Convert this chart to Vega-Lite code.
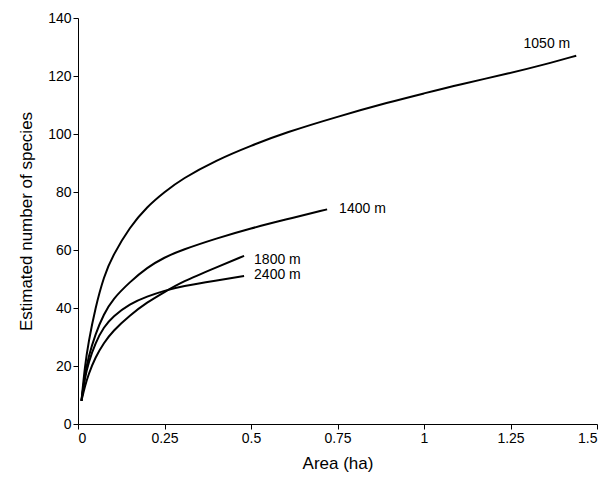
{
  "$schema": "https://vega.github.io/schema/vega-lite/v6.json",
  "autosize": "none",
  "width": 519,
  "height": 406,
  "padding": {"left": 78, "top": 18, "right": 9, "bottom": 65},
  "background": "white",
  "config": {"view": {"stroke": null}, "font": "Liberation Sans"},
  "datasets": {
    "labels": [
      {"s":"1050 m","a":1.44,"n":127},
      {"s":"1400 m","a":0.72,"n":74},
      {"s":"1800 m","a":0.48,"n":58},
      {"s":"2400 m","a":0.48,"n":51}
    ]
  },
  "layer": [
    {
      "data": {"values": [
        {"s":"1050 m","a":0.01,"n":8},{"s":"1050 m","a":0.02,"n":20},{"s":"1050 m","a":0.03,"n":28},{"s":"1050 m","a":0.05,"n":40},{"s":"1050 m","a":0.075,"n":51},{"s":"1050 m","a":0.1,"n":58},{"s":"1050 m","a":0.15,"n":68},{"s":"1050 m","a":0.2,"n":75},{"s":"1050 m","a":0.25,"n":80},{"s":"1050 m","a":0.3,"n":84.5},{"s":"1050 m","a":0.4,"n":91},{"s":"1050 m","a":0.5,"n":96},{"s":"1050 m","a":0.6,"n":100.5},{"s":"1050 m","a":0.75,"n":106},{"s":"1050 m","a":0.9,"n":111},{"s":"1050 m","a":1.0,"n":114},{"s":"1050 m","a":1.1,"n":117},{"s":"1050 m","a":1.25,"n":121},{"s":"1050 m","a":1.35,"n":124},{"s":"1050 m","a":1.44,"n":127},
        {"s":"1400 m","a":0.01,"n":8},{"s":"1400 m","a":0.02,"n":17},{"s":"1400 m","a":0.03,"n":23},{"s":"1400 m","a":0.05,"n":31},{"s":"1400 m","a":0.075,"n":38},{"s":"1400 m","a":0.1,"n":43},{"s":"1400 m","a":0.15,"n":49},{"s":"1400 m","a":0.2,"n":54},{"s":"1400 m","a":0.25,"n":57.5},{"s":"1400 m","a":0.3,"n":60},{"s":"1400 m","a":0.4,"n":64},{"s":"1400 m","a":0.5,"n":67.5},{"s":"1400 m","a":0.6,"n":70.5},{"s":"1400 m","a":0.72,"n":74},
        {"s":"1800 m","a":0.01,"n":8},{"s":"1800 m","a":0.02,"n":13},{"s":"1800 m","a":0.03,"n":17},{"s":"1800 m","a":0.05,"n":23},{"s":"1800 m","a":0.075,"n":28},{"s":"1800 m","a":0.1,"n":32},{"s":"1800 m","a":0.15,"n":37.5},{"s":"1800 m","a":0.2,"n":42},{"s":"1800 m","a":0.25,"n":45.5},{"s":"1800 m","a":0.3,"n":49},{"s":"1800 m","a":0.4,"n":54},{"s":"1800 m","a":0.48,"n":58},
        {"s":"2400 m","a":0.01,"n":8},{"s":"2400 m","a":0.02,"n":16},{"s":"2400 m","a":0.03,"n":21},{"s":"2400 m","a":0.05,"n":28},{"s":"2400 m","a":0.075,"n":33.5},{"s":"2400 m","a":0.1,"n":37},{"s":"2400 m","a":0.15,"n":41.5},{"s":"2400 m","a":0.2,"n":44},{"s":"2400 m","a":0.25,"n":46},{"s":"2400 m","a":0.3,"n":47.5},{"s":"2400 m","a":0.4,"n":49.5},{"s":"2400 m","a":0.48,"n":51}
      ]},
      "mark": {"type": "line", "color": "black", "strokeWidth": 2, "interpolate": "basis"},
      "encoding": {
        "x": {"field": "a", "type": "quantitative", "scale": {"domain": [0, 1.5], "nice": false},
          "axis": {"title": "Area (ha)", "values": [0,0.25,0.5,0.75,1,1.25,1.5], "format": ".2~f", "grid": false, "domainColor": "black", "tickColor": "black", "labelFontSize": 14, "labelColor": "black", "titleFontSize": 17, "titleFontWeight": "normal", "titleColor": "black", "titlePadding": 10, "tickSize": 5}},
        "y": {"field": "n", "type": "quantitative", "scale": {"domain": [0, 140], "nice": false},
          "axis": {"title": "Estimated number of species", "values": [0,20,40,60,80,100,120,140], "grid": false, "domainColor": "black", "tickColor": "black", "labelFontSize": 14, "labelColor": "black", "titleFontSize": 17, "titleFontWeight": "normal", "titleColor": "black", "titlePadding": 12, "tickSize": 5}},
        "detail": {"field": "s"}
      }
    },
    {
      "data": {"name": "labels"},
      "transform": [{"filter": "datum.s == '1050 m'"}],
      "mark": {"type": "text", "align": "right", "fontSize": 14, "color": "black", "dx": -6, "dy": -12},
      "encoding": {"x": {"field": "a", "type": "quantitative"}, "y": {"field": "n", "type": "quantitative"}, "text": {"field": "s"}}
    },
    {
      "data": {"name": "labels"},
      "transform": [{"filter": "datum.s == '1400 m'"}],
      "mark": {"type": "text", "align": "left", "fontSize": 14, "color": "black", "dx": 12, "dy": 0},
      "encoding": {"x": {"field": "a", "type": "quantitative"}, "y": {"field": "n", "type": "quantitative"}, "text": {"field": "s"}}
    },
    {
      "data": {"name": "labels"},
      "transform": [{"filter": "datum.s == '1800 m'"}],
      "mark": {"type": "text", "align": "left", "fontSize": 14, "color": "black", "dx": 10, "dy": 4},
      "encoding": {"x": {"field": "a", "type": "quantitative"}, "y": {"field": "n", "type": "quantitative"}, "text": {"field": "s"}}
    },
    {
      "data": {"name": "labels"},
      "transform": [{"filter": "datum.s == '2400 m'"}],
      "mark": {"type": "text", "align": "left", "fontSize": 14, "color": "black", "dx": 10, "dy": -1},
      "encoding": {"x": {"field": "a", "type": "quantitative"}, "y": {"field": "n", "type": "quantitative"}, "text": {"field": "s"}}
    }
  ]
}
